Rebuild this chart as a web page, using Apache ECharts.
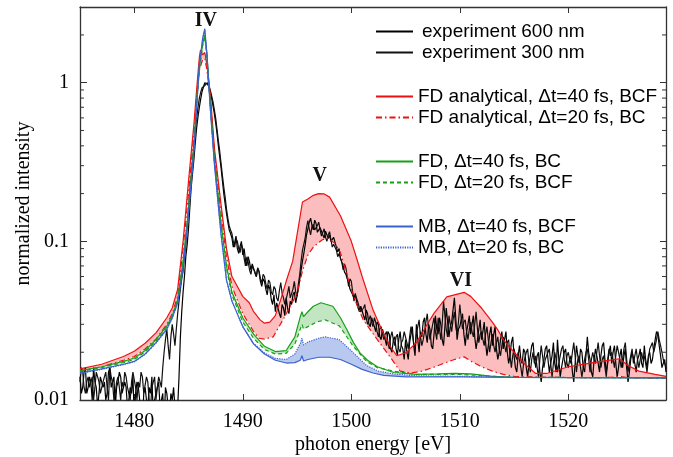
<!DOCTYPE html>
<html><head><meta charset="utf-8">
<script src="https://cdn.jsdelivr.net/npm/echarts@6/dist/echarts.min.js"></script>
<style>html,body{margin:0;padding:0;background:#fff}#c{width:673px;height:457px}</style>
</head><body><div id="c"></div>
<script>
// ---- experiment traces (values in units of 1e-3, energy grid start/step; one row per eV) ----
const expStart = 1475, expStep = 0.125;
const exp600 = [
 14,11,12,15,16,11,12,14,
 13,10,16,13,12,9,11,14,
 14,12,13,10,11,15,16,12,
 12,14,9,12,13,15,14,11,
 11,13,12,9,10,12,11,14,
 8,11,13,12,10,8,7,11,
 12,10,9,12,11,14,8,10,
 10,12,13,9,9,11,7,12,
 11,9,8,11,10,12,9,8,
 9,14,25,36,48,60,80,95,
 120,165,220,270,330,420,520,610,
 700,790,880,940,1000,990,980,940,
 880,800,720,640,560,480,400,340,
 290,240,200,172,150,132,118,112,
 105,92,98,108,90,84,93,100,
 82,90,76,70,80,74,66,72,
 70,63,60,68,64,56,52,58,
 56,50,46,53,50,43,40,46,
 36,41,42,35,33,40,38,34,
 44,38,35,42,40,46,48,41,
 42,50,58,66,75,84,95,110,
 120,132,140,126,118,136,130,114,
 112,122,125,110,105,116,118,104,
 110,100,98,106,104,92,86,90,
 78,74,70,64,62,58,55,50,
 50,46,44,47,41,38,36,39,
 38,34,32,37,35,30,29,33,
 33,29,27,31,30,25,24,28,
 28,24,22,27,26,21,20,24,
 25,21,19,24,27,22,21,18,
 24,20,18,23,26,29,22,19,
 30,24,20,27,25,31,33,26,
 23,30,28,22,21,26,34,28,
 26,33,30,24,22,29,38,31,
 25,29,31,37,44,33,24,28,
 29,32,35,26,22,27,30,34,
 26,30,34,25,21,24,28,32,
 24,27,31,23,19,22,26,29,
 22,26,29,21,18,20,24,27,
 21,24,27,20,17,19,23,25,
 19,16,15,19,22,18,17,21,
 20,16,14,17,19,22,23,18,
 16,19,20,15,13,16,18,21,
 22,18,15,17,19,23,17,15,
 24,18,14,16,18,20,21,17,
 16,18,19,15,13,17,22,19,
 17,21,20,16,15,19,25,20,
 18,15,14,18,21,19,17,15,
 19,22,23,18,15,17,20,22,
 17,20,22,17,14,16,19,21,
 16,19,21,16,13,15,18,20,
 20,17,15,18,19,21,17,16,
 22,18,16,19,20,17,18,21,
 24,27,26,22,19,16,17,18,
 15
];
const exp300 = [
 13,16,15,12,11,13,14,12,
 12,14,10,12,15,14,13,11,
 11,13,14,15,12,10,16,14,
 13,10,11,13,14,12,10,13,
 12,15,14,12,11,10,13,15,
 15,12,10,13,12,15,14,11,
 11,14,13,10,9,12,12,14,
 10,12,14,13,12,16,20,24,
 28,22,18,25,30,26,22,28,
 35,42,50,58,65,80,95,125,
 160,210,260,330,400,500,600,700,
 800,870,930,950,960,985,1000,960,
 900,830,760,680,600,510,430,370,
 310,260,220,190,160,140,125,118,
 112,100,92,104,100,90,85,96,
 90,78,70,80,74,66,62,70,
 72,64,60,68,65,58,55,62,
 60,54,50,57,55,48,46,52,
 50,44,42,49,55,47,44,40,
 40,47,52,44,44,50,56,48,
 45,54,62,75,88,96,105,122,
 135,120,110,124,128,118,115,126,
 132,118,108,114,120,106,100,110,
 115,102,92,96,98,88,80,84,
 82,74,66,72,68,60,52,58,
 56,48,42,46,46,41,38,36,
 35,38,40,33,30,32,34,31,
 29,33,31,27,25,28,29,26,
 24,26,27,23,21,25,27,24,
 22,25,26,21,20,23,24,27,
 27,23,21,25,29,26,23,21,
 26,29,32,25,22,24,27,31,
 35,28,24,27,30,33,27,24,
 33,28,24,30,42,34,28,25,
 34,30,27,32,36,29,26,31,
 40,33,28,31,32,27,24,28,
 31,27,25,30,36,28,23,26,
 27,24,22,26,29,24,20,23,
 26,22,20,23,25,21,19,22,
 25,22,20,23,24,19,16,19,
 21,19,18,20,20,16,14,17,
 17,20,21,17,15,18,20,17,
 19,16,14,18,22,19,16,18,
 18,20,21,17,14,17,20,18,
 15,17,19,21,22,18,16,19,
 20,18,17,20,23,19,15,18,
 19,16,14,16,18,20,21,18,
 15,18,20,18,17,20,23,19,
 16,18,19,16,14,18,21,19,
 20,18,16,19,22,20,18,16,
 18,21,23,18,15,17,19,21,
 17,19,21,18,16,18,20,18,
 19,17,15,18,21,22,23,20,
 20,24,27,24,22,20,18,17,
 16
];

// ---- FD analytical ----
const fdaE40 = [1475,1477,1479,1480,1481,1482,1483,1483.5,1484,1484.5,1485,1485.5,1485.8,1486,1486.1,1486.3,1486.5,1486.7,1487,1487.4,1488,1488.5,1489,1490,1490.6,1491,1491.6,1492,1492.5,1493,1493.5,1494,1494.6,1495,1495.5,1496,1496.5,1497,1497.5,1498,1499,1500,1500.5,1501,1502,1502.4,1503,1503.6,1504.2,1505,1506,1507,1507.6,1508.8,1510.4,1511,1512,1513,1513.5,1514,1515,1516,1517,1518,1520,1522,1524,1524.7,1525.5,1526.5,1528,1529];
const fdaV40 = [0.0157,0.0168,0.0188,0.0203,0.0228,0.0265,0.033,0.038,0.050,0.10,0.24,0.55,1.0,1.45,1.6,1.5,1.55,1.3,0.85,0.38,0.17,0.09,0.060,0.045,0.041,0.036,0.032,0.0305,0.031,0.034,0.043,0.056,0.075,0.11,0.177,0.185,0.195,0.2,0.199,0.19,0.145,0.1,0.078,0.06,0.037,0.032,0.026,0.0217,0.019,0.0198,0.023,0.030,0.035,0.0447,0.0477,0.045,0.038,0.031,0.0277,0.024,0.020,0.0168,0.0147,0.0147,0.0162,0.0171,0.0179,0.0182,0.0165,0.0152,0.0145,0.0141];
const fdaE20 = [1475,1477,1479,1480,1481,1482,1483,1483.5,1484,1484.5,1485,1485.5,1485.8,1486,1486.3,1486.5,1486.7,1487,1487.4,1488,1488.5,1489,1490,1491,1491.5,1492,1492.8,1493.7,1494.3,1495,1495.5,1496,1496.5,1497.3,1497.8,1498.5,1499,1499.9,1500.5,1501.1,1502.4,1503.5,1504.5,1505.5,1506.5,1507.5,1508.5,1509.5,1510.4,1511,1512,1513,1514,1515,1518,1522,1524,1524.7,1525.5,1529];
const fdaV20 = [0.0152,0.0162,0.0178,0.0188,0.0210,0.0242,0.0300,0.035,0.045,0.09,0.2,0.48,0.9,1.2,1.4,1.42,1.2,0.8,0.35,0.15,0.08,0.052,0.035,0.027,0.0245,0.0242,0.025,0.032,0.038,0.047,0.065,0.082,0.092,0.102,0.105,0.097,0.085,0.052,0.04,0.032,0.024,0.019,0.0152,0.0148,0.0152,0.016,0.017,0.018,0.0187,0.0176,0.0162,0.0152,0.0145,0.0141,0.0139,0.0138,0.0139,0.0141,0.0138,0.0137];

// ---- FD ----
const fdE40 = [1475,1477,1479,1480,1481,1482,1483,1483.5,1484,1484.5,1485,1485.5,1485.8,1486,1486.3,1486.5,1486.7,1487,1487.4,1488,1488.5,1489,1490,1491,1492,1493,1494,1494.8,1495.3,1495.45,1495.6,1496,1496.5,1497.2,1498.3,1499,1499.6,1500.2,1500.8,1501.5,1502.4,1503.9,1506,1508,1509.5,1511,1513,1515,1529];
const fdV40 = [0.0153,0.0162,0.0175,0.0184,0.0205,0.0240,0.0293,0.034,0.043,0.075,0.16,0.4,0.85,1.25,1.75,2.0,1.5,0.75,0.32,0.13,0.07,0.048,0.033,0.026,0.0218,0.0202,0.0205,0.025,0.0335,0.036,0.0335,0.036,0.039,0.041,0.039,0.033,0.0277,0.023,0.0198,0.0178,0.0162,0.0149,0.0145,0.0146,0.0147,0.0146,0.0141,0.0139,0.0138];
const fdE20 = [1475,1477,1479,1480,1481,1482,1483,1483.5,1484,1484.5,1485,1485.5,1485.8,1486,1486.3,1486.5,1486.7,1487,1487.4,1488,1488.5,1489,1490,1491,1492,1493,1494,1494.8,1495.3,1495.45,1495.6,1496,1496.8,1497.6,1498.9,1500.2,1501.4,1502.4,1503.9,1506,1510,1515,1529];
const fdV20 = [0.0151,0.0160,0.0172,0.0180,0.0201,0.0235,0.0287,0.033,0.042,0.073,0.155,0.39,0.82,1.2,1.7,1.95,1.45,0.72,0.31,0.125,0.067,0.046,0.031,0.0245,0.0208,0.0195,0.0197,0.0225,0.028,0.030,0.028,0.029,0.031,0.032,0.0293,0.0217,0.0175,0.016,0.0152,0.0145,0.0145,0.0139,0.0138];

// ---- MB ----
const mbE40 = [1475,1477,1479,1480,1481,1482,1483,1483.5,1484,1484.5,1485,1485.5,1485.8,1486,1486.3,1486.5,1486.7,1487,1487.4,1488,1488.5,1489,1490,1491,1492,1493,1494,1494.8,1495.3,1495.45,1495.6,1496,1497,1498,1499,1500,1501,1502,1503,1505,1510,1515,1529];
const mbV40 = [0.0148,0.0157,0.0168,0.0175,0.0195,0.0230,0.0280,0.033,0.041,0.068,0.15,0.38,0.8,1.3,1.9,2.19,1.5,0.7,0.3,0.11,0.057,0.042,0.029,0.0225,0.0195,0.0178,0.0171,0.0172,0.0178,0.019,0.0176,0.018,0.0186,0.0186,0.018,0.0168,0.0156,0.0148,0.0143,0.014,0.014,0.0139,0.0138];
const mbE20 = [1475,1477,1479,1480,1481,1482,1483,1483.5,1484,1484.5,1485,1485.5,1485.8,1486,1486.3,1486.5,1486.7,1487,1487.4,1488,1488.5,1489,1490,1491,1492,1493,1494,1494.8,1495.3,1495.45,1495.6,1496,1497,1497.6,1498.9,1500.2,1501.4,1502.5,1503.9,1506,1510,1515,1529];
const mbV20 = [0.0147,0.0156,0.0167,0.0174,0.0194,0.0228,0.0278,0.0328,0.041,0.067,0.15,0.37,0.79,1.28,1.88,2.15,1.48,0.69,0.3,0.11,0.057,0.042,0.029,0.0228,0.0198,0.0183,0.0180,0.0195,0.0227,0.0245,0.0222,0.0232,0.0245,0.025,0.024,0.0198,0.0165,0.0152,0.0146,0.0142,0.0141,0.0139,0.0138];

// ---- axes / annotations ----
const xMin = 1475, xMax = 1529, yMin = 0.01, yMax = 3;
const minorTickValues = [0.02,0.03,0.04,0.05,0.06,0.07,0.08,0.09,0.2,0.3,0.4,0.5,0.6,0.7,0.8,0.9,2];
const peakNames = ['IV','V','VI'];
const peakE = [1486.6, 1497.1, 1510.1];
const peakV = [2.45, 0.257, 0.056];

const names = ['experiment 600 nm','experiment 300 nm',
  'FD analytical, \u0394t=40 fs, BCF','FD analytical, \u0394t=20 fs, BC',
  'FD, \u0394t=40 fs, BC','FD, \u0394t=20 fs, BCF',
  'MB, \u0394t=40 fs, BCF','MB, \u0394t=20 fs, BC'];

const RED = '#ee1111', GREEN = '#17a017', BLUE = '#3a62d0';
const pairs = (E, V) => E.map((e, i) => [e, V[i]]);
const expPairs = arr => arr.map((v, i) => [expStart + i * expStep, v / 1000]);

function band(uE, uV, lE, lV, color) {
  return {
    type: 'custom', silent: true, z: 1, clip: true,
    data: [[1500, 0.1]],
    renderItem: function (params, api) {
      const pts = [];
      for (let i = 0; i < uE.length; i++) pts.push(api.coord([uE[i], uV[i]]));
      for (let i = lE.length - 1; i >= 0; i--) pts.push(api.coord([lE[i], lV[i]]));
      return { type: 'polygon', shape: { points: pts }, style: { fill: color } };
    }
  };
}
function line(name, data, color, type, z, w) {
  return { name, type: 'line', data, symbol: 'none', z: z, clip: true, animation: false,
    lineStyle: { color, width: w || 1.2, type: type || 'solid' }, itemStyle: { color } };
}

const axisColor = '#333';
const serif = 'Liberation Serif';
const chart = echarts.init(document.getElementById('c'));
const legendBase = { orient: 'vertical', left: 375, itemWidth: 37, itemHeight: 12, itemGap: 2,
  padding: 0, selectedMode: false, itemStyle: { opacity: 0 },
  textStyle: { fontFamily: 'Liberation Sans', fontSize: 19, color: '#000', lineHeight: 19 } };

chart.setOption({
  animation: false,
  backgroundColor: '#fff',
  grid: { left: 80, right: 7, top: 7, bottom: 57, outerBoundsMode: 'none', containLabel: false },
  legend: [
    Object.assign({}, legendBase, { top: 22, data: names.slice(0, 2),
      textStyle: Object.assign({}, legendBase.textStyle, { padding: [0, 0, 0, 4] }) }),
    Object.assign({}, legendBase, { top: 87, data: names.slice(2, 4) }),
    Object.assign({}, legendBase, { top: 152, data: names.slice(4, 6) }),
    Object.assign({}, legendBase, { top: 217, data: names.slice(6, 8) })
  ],
  xAxis: [{
    type: 'value', min: xMin, max: xMax, position: 'bottom',
    name: 'photon energy [eV]', nameLocation: 'middle', nameGap: 35, nameMoveOverlap: false,
    nameTextStyle: { fontFamily: serif, fontSize: 20, color: '#000' },
    axisLine: { lineStyle: { color: axisColor, width: 1.3 } },
    axisTick: { inside: true, length: 6, lineStyle: { color: axisColor } },
    axisLabel: { fontFamily: serif, fontSize: 20, color: '#000', margin: 12,
      formatter: v => (v % 10 === 0 ? String(v) : '') },
    splitLine: { show: false }
  }, {
    type: 'value', min: xMin, max: xMax, position: 'top',
    axisLine: { lineStyle: { color: axisColor, width: 1.3 } },
    axisTick: { inside: true, length: 6, lineStyle: { color: axisColor } },
    axisLabel: { show: false }, splitLine: { show: false }
  }],
  yAxis: [{
    type: 'log', logBase: 10, min: yMin, max: yMax, position: 'left',
    name: 'normalized intensity', nameLocation: 'middle', nameGap: 46, nameMoveOverlap: false,
    nameTextStyle: { fontFamily: serif, fontSize: 20, color: '#000' },
    axisLine: { show: true, lineStyle: { color: axisColor, width: 1.3 } },
    axisTick: { inside: true, length: 7, lineStyle: { color: axisColor } },
    axisLabel: { fontFamily: serif, fontSize: 20, color: '#000', margin: 11,
      formatter: v => { const l = Math.log10(v); return Math.abs(l - Math.round(l)) < 1e-6 ? String(+v.toPrecision(3)) : ''; } },
    splitLine: { show: false }
  }, {
    type: 'log', logBase: 10, min: yMin, max: yMax, position: 'right',
    axisLine: { show: true, lineStyle: { color: axisColor, width: 1.3 } },
    axisTick: { inside: true, length: 6, lineStyle: { color: axisColor } },
    axisLabel: { show: false }, splitLine: { show: false }
  }],
  series: [
    band(fdaE40, fdaV40, fdaE20, fdaV20, '#fbbdbd'),
    band(fdE40, fdV40, fdE20, fdV20, '#c2e6c2'),
    band(mbE20, mbV20, mbE40, mbV40, '#b9c8ee'),
    line(names[0], expPairs(exp600), '#000', 'solid', 2, 1.2),
    line(names[1], expPairs(exp300), '#111', 'solid', 2, 1.2),
    line(names[2], pairs(fdaE40, fdaV40), RED, 'solid', 3),
    line(names[3], pairs(fdaE20, fdaV20), RED, [6, 3, 1.5, 3], 3),
    line(names[4], pairs(fdE40, fdV40), GREEN, 'solid', 3),
    line(names[5], pairs(fdE20, fdV20), GREEN, [4, 3], 3),
    line(names[6], pairs(mbE40, mbV40), BLUE, 'solid', 3),
    line(names[7], pairs(mbE20, mbV20), BLUE, [1.2, 1.2], 3),
    {
      type: 'custom', silent: true, z: 5, clip: false,
      data: minorTickValues.map(v => [xMin, v]),
      renderItem: function (params, api) {
        const v = api.value(1);
        const pL = api.coord([xMin, v]), pR = api.coord([xMax, v]);
        return { type: 'group', children: [
          { type: 'line', shape: { x1: pL[0], y1: pL[1], x2: pL[0] + 4, y2: pL[1] }, style: { stroke: axisColor, lineWidth: 1 } },
          { type: 'line', shape: { x1: pR[0], y1: pR[1], x2: pR[0] - 4, y2: pR[1] }, style: { stroke: axisColor, lineWidth: 1 } }
        ] };
      }
    },
    {
      type: 'scatter', silent: true, z: 6, symbolSize: 1, itemStyle: { color: 'rgba(0,0,0,0)' },
      data: peakNames.map((n, i) => ({ name: n, value: [peakE[i], peakV[i]] })),
      label: { show: true, position: 'inside', formatter: '{b}', fontFamily: serif,
        fontWeight: 'bold', fontSize: 20, color: '#111', opacity: 1 }
    }
  ]
});
</script></body></html>
